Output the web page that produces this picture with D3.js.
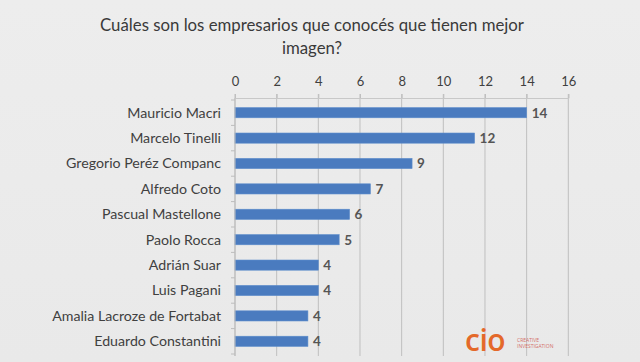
<!DOCTYPE html>
<html><head><meta charset="utf-8">
<script src="https://cdn.jsdelivr.net/npm/d3@7"></script>
<style>
html,body{margin:0;padding:0;background:#ebebeb;}
svg{display:block;}
</style></head>
<body>
<script>
const categories = ["Mauricio Macri","Marcelo Tinelli","Gregorio Peréz Companc","Alfredo Coto","Pascual Mastellone","Paolo Rocca","Adrián Suar","Luis Pagani","Amalia Lacroze de Fortabat","Eduardo Constantini"];
const values = [14, 11.5, 8.5, 6.5, 5.5, 5, 4, 4, 3.5, 3.5];
const xTicks = [0,2,4,6,8,10,12,14,16];
const titleLines = ["Cuáles son los empresarios que conocés que tienen mejor","imagen?"];

(function(){
const W = 640, H = 362;
const svg = d3.select("body").append("svg").attr("width", W).attr("height", H);

const defs = svg.append("defs");
const bg = defs.append("linearGradient").attr("id","bg").attr("x1",0).attr("y1",0).attr("x2",0).attr("y2",1);
bg.append("stop").attr("offset","0%").attr("stop-color","#ededed");
bg.append("stop").attr("offset","100%").attr("stop-color","#e9e9e9");
svg.append("rect").attr("width",W).attr("height",H).attr("fill","url(#bg)");

const font = "Lato, 'Open Sans', sans-serif";
const pL = 235, pR = 568.3, pT = 98, pB = 354;

const x = d3.scaleLinear().domain([0,16]).range([pL,pR]);
const y = d3.scaleBand().domain(categories).range([pT+2,pB]).paddingInner(0.6).paddingOuter(0.3);
const yb = d3.scaleBand().domain(categories).range([pT+2,pB]);

// title
svg.append("g").selectAll("text").data(titleLines).join("text")
  .attr("x", 312).attr("y",(d,i)=>31+i*23)
  .attr("text-anchor","middle")
  .attr("font-family",font).attr("font-size",16.8).attr("fill","#3a3a3a")
  .text(d=>d);

// gridlines
svg.append("g").selectAll("line").data(xTicks).join("line")
  .attr("x1",d=>x(d)).attr("x2",d=>x(d)).attr("y1",pT-4).attr("y2",pB+2)
  .attr("stroke","#bfbfbf").attr("stroke-width",1);

// top axis
const xAxis = d3.axisTop(x).tickValues(xTicks).tickSize(4).tickPadding(8);
const gx = svg.append("g").attr("transform",`translate(0,${pT})`).call(xAxis);
gx.select(".domain").attr("stroke","#c8c8c8");
gx.selectAll(".tick line").attr("stroke","#bfbfbf");
gx.selectAll(".tick text").attr("font-family",font).attr("font-size",13).attr("fill","#404040");

// bars
svg.append("g").selectAll("rect").data(values).join("rect")
  .attr("x",x(0)).attr("y",(d,i)=>y(categories[i]))
  .attr("width",d=>x(d)-x(0)).attr("height",y.bandwidth())
  .attr("fill","#4a7bbf").attr("stroke","#5b8ccb").attr("stroke-width",0.6);

// left axis
const boundaries = categories.map(c=>yb(c)).concat([yb.range()[1]]);
const ga = svg.append("g");
ga.append("line").attr("x1",pL).attr("x2",pL).attr("y1",pT).attr("y2",pB+2).attr("stroke","#bdbdbd");
ga.selectAll("line.t").data(boundaries).join("line").attr("class","t")
  .attr("x1",pL-4).attr("x2",pL).attr("y1",d=>d).attr("y2",d=>d).attr("stroke","#bdbdbd");
ga.selectAll("text").data(categories).join("text")
  .attr("x",221).attr("y",d=>yb(d)+yb.bandwidth()/2).attr("dy","0.35em")
  .attr("text-anchor","end").attr("font-family",font).attr("font-size",14.2).attr("fill","#404040")
  .text(d=>d);

// value labels
const fmt = d3.format(".0f");
svg.append("g").selectAll("text").data(values).join("text")
  .attr("x",d=>x(d)+5).attr("y",(d,i)=>y(categories[i])+y.bandwidth()/2).attr("dy","0.37em")
  .attr("font-family",font).attr("font-size",13.5).attr("font-weight","bold").attr("fill","#555555")
  .text(d=>fmt(d));

// logo
const logo = svg.append("g");
logo.append("text").attr("x",465).attr("y",351)
  .attr("font-family","'Open Sans', sans-serif").attr("font-weight","600").attr("font-size",30)
  .attr("fill","#e4692a").attr("letter-spacing",-0.5).text("cio");
logo.append("text").attr("x",517).attr("y",342)
  .attr("font-family","'Open Sans', sans-serif").attr("font-size",5).attr("fill","#d4706a").text("CREATIVE");
logo.append("text").attr("x",517).attr("y",348)
  .attr("font-family","'Open Sans', sans-serif").attr("font-size",5).attr("fill","#d4706a").text("INVESTIGATION");
})();
</script>
</body></html>
